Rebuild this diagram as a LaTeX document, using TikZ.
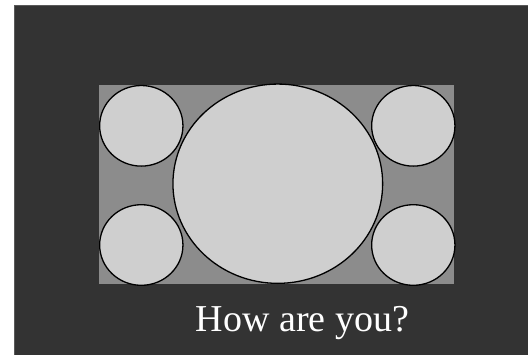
\documentclass[tikz,border=0pt]{standalone}
\usepackage{fontspec}
\setmainfont{Liberation Serif}
\usetikzlibrary{shapes.geometric}
\definecolor{bgdark}{RGB}{51,51,51}
\definecolor{panel}{RGB}{140,140,140}
\definecolor{disc}{RGB}{207,207,207}
\tikzset{
  discst/.style={ellipse,fill=disc,draw=black,line width=1.3pt,inner sep=0,outer sep=0},
  smalldisc/.style={discst,minimum width=83.3pt,minimum height=80.6pt},
}
\begin{document}
\begin{tikzpicture}[x=1pt,y=-1pt]
\useasboundingbox[fill=white] (0,0) rectangle (530,354);
\fill[bgdark] (14,5) rectangle (528,356);
\draw[gray!70!black,line width=0.8pt] (14.4,356) -- (14.4,5.4) -- (528,5.4);
\node[fill=panel,inner sep=0,minimum width=355.3pt,minimum height=199pt] (panel) at (276.35,184.5) {};
\node[smalldisc] (tl) at (141.3,125.8) {};
\node[smalldisc] (tr) at (413.3,125.8) {};
\node[smalldisc] (bl) at (141.3,245) {};
\node[smalldisc] (br) at (413.3,245) {};
\node[discst,minimum width=209.7pt,minimum height=199.3pt] (big) at (277.8,183.7) {};
\node[text=white,font=\fontsize{38}{40}\selectfont,anchor=base,inner sep=0] (cap) at (302.5,331.7) {How are you?};
\end{tikzpicture}
\end{document}
